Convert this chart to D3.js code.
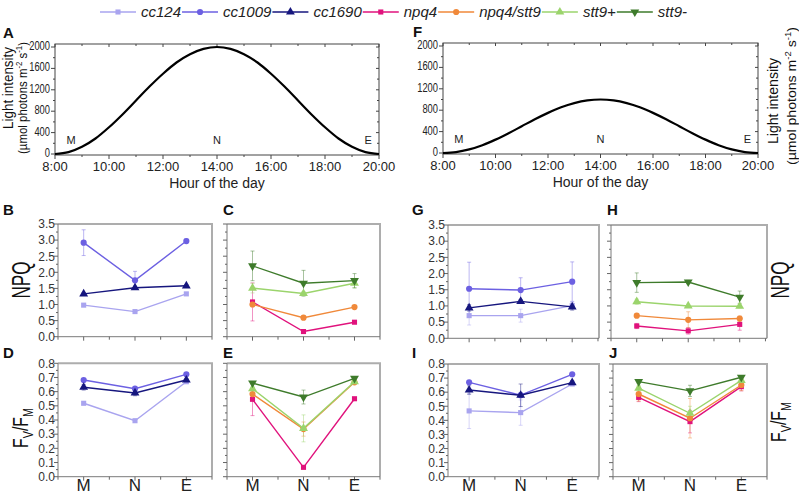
<!DOCTYPE html>
<html><head><meta charset="utf-8">
<script src="https://cdn.jsdelivr.net/npm/d3@7"></script>
<style>body{margin:0;background:#fff}svg{display:block}</style>
</head><body><svg id="c" width="799" height="494"></svg>
<script>
// ---------- DATA ----------
const categories = ["M", "N", "E"];
const hourTicks = [8, 10, 12, 14, 16, 18, 20];
const hourTickLabels = ["8:00", "10:00", "12:00", "14:00", "16:00", "18:00", "20:00"];
const lightTicks = [0, 400, 800, 1200, 1600, 2000];
const hours = [8,8.5,9,9.5,10,10.5,11,11.5,12,12.5,13,13.5,14,14.5,15,15.5,16,16.5,17,17.5,18,18.5,19,19.5,20];
const lightHigh = [0,35,135,290,500,740,1000,1260,1500,1710,1865,1965,2000,1965,1865,1710,1500,1260,1000,740,500,290,135,35,0];
const lightLow  = [0,17,67,146,250,370,500,630,750,855,933,983,1000,983,933,855,750,630,500,370,250,146,67,17,0];

const seriesNames = ["cc124", "cc1009", "cc1690", "npq4", "npq4/stt9", "stt9+", "stt9-"];
const wtSeries = ["cc124", "cc1009", "cc1690"];
const mutSeries = ["npq4", "npq4/stt9", "stt9+", "stt9-"];
const npqTicks = [0, 0.5, 1.0, 1.5, 2.0, 2.5, 3.0, 3.5];
const fvTicks = [0, 0.1, 0.2, 0.3, 0.4, 0.5, 0.6, 0.7, 0.8];

// high light (2000)
const npqB    = [[0.98, 0.78, 1.33], [2.92, 1.75, 2.97], [1.33, 1.52, 1.58]];
const npqBerr = [[0.04, 0.03, 0.04], [0.40, 0.28, 0.07], [0.04, 0.05, 0.04]];
const npqC    = [[1.08, 0.16, 0.45], [1.00, 0.59, 0.92], [1.51, 1.34, 1.66], [2.20, 1.66, 1.74]];
const npqCerr = [[0.59, 0.03, 0.03], [0.03, 0.03, 0.03], [0.15, 0.05, 0.15], [0.46, 0.40, 0.22]];
const fvD     = [[0.518, 0.395, 0.670], [0.682, 0.621, 0.722], [0.631, 0.591, 0.682]];
const fvDerr  = [[0.010, 0.008, 0.010], [0.008, 0.010, 0.008], [0.020, 0.020, 0.010]];
const fvE     = [[0.546, 0.066, 0.550], [0.583, 0.336, 0.666], [0.621, 0.341, 0.670], [0.661, 0.562, 0.694]];
const fvEerr  = [[0.115, 0.006, 0.006], [0.010, 0.050, 0.010], [0.010, 0.095, 0.010], [0.008, 0.049, 0.008]];
// low light (1000)
const npqG    = [[0.70, 0.70, 1.01], [1.53, 1.49, 1.75], [0.94, 1.14, 0.97]];
const npqGerr = [[0.29, 0.20, 0.10], [0.82, 0.38, 0.61], [0.10, 0.05, 0.10]];
const npqH    = [[0.38, 0.23, 0.43], [0.70, 0.57, 0.61], [1.13, 1.00, 0.99], [1.72, 1.74, 1.27]];
const npqHerr = [[0.08, 0.10, 0.18], [0.05, 0.25, 0.08], [0.08, 0.05, 0.05], [0.30, 0.05, 0.19]];
const fvI     = [[0.467, 0.455, 0.658], [0.670, 0.579, 0.727], [0.615, 0.578, 0.668]];
const fvIerr  = [[0.125, 0.090, 0.010], [0.010, 0.010, 0.010], [0.030, 0.080, 0.015]];
const fvJ     = [[0.563, 0.391, 0.639], [0.587, 0.415, 0.651], [0.628, 0.450, 0.684], [0.675, 0.609, 0.706]];
const fvJerr  = [[0.030, 0.080, 0.030], [0.050, 0.140, 0.040], [0.020, 0.050, 0.020], [0.010, 0.040, 0.010]];

// ---------- STYLE ----------
const colors = {"cc124":"#a9a4ef","cc1009":"#6c60e2","cc1690":"#16167e","npq4":"#e0127c","npq4/stt9":"#f0893a","stt9+":"#9bd46c","stt9-":"#3e7b2b"};
const shapes = {"cc124":d3.symbolSquare,"cc1009":d3.symbolCircle,"cc1690":d3.symbolTriangle,"npq4":d3.symbolSquare,"npq4/stt9":d3.symbolCircle,"stt9+":d3.symbolTriangle,"stt9-":"down"};
const FONT = "Arial, 'Liberation Sans', Helvetica, sans-serif";

const svg = d3.select("#c").attr("font-family", FONT);

function marker(g, name, x, y) {
  let sz = 30, t = "";
  let sym = shapes[name];
  if (sym === "down") { sym = d3.symbolTriangle; t = " rotate(180)"; sz = 34; }
  else if (sym === d3.symbolTriangle) sz = 34;
  else if (sym === d3.symbolSquare) sz = 26;
  g.append("path").attr("d", d3.symbol(sym, sz)()).attr("transform", `translate(${x},${y})${t}`)
    .attr("fill", colors[name]);
}

// rotated (-90) text, visually centred on (x, y), compressed along its length to targetLen
function rotText(x, y, parts, size, targetLen) {
  const t = svg.append("text").attr("font-size", size).attr("text-anchor", "middle").attr("fill", "#111")
    .attr("y", size * 0.36);
  parts.forEach(p => {
    const ts = t.append("tspan").text(p.t);
    if (p.sub) ts.attr("font-size", size * 0.68).attr("dy", size * 0.25);
    else if (p.sup) ts.attr("font-size", size * 0.68).attr("dy", -size * 0.38);
    if (p.back) ts.attr("dy", p.back * size);
  });
  const len = t.node().getComputedTextLength();
  const k = targetLen ? targetLen / len : 1;
  t.attr("transform", `translate(${x},${y}) rotate(-90) scale(${k},1)`);
  return t;
}

// ---------- LEGEND ----------
(function () {
  const g = svg.append("g");
  let x = 100;
  seriesNames.forEach(n => {
    g.append("line").attr("x1", x).attr("x2", x + 36).attr("y1", 12).attr("y2", 12)
      .attr("stroke", colors[n]).attr("stroke-width", 1.5);
    marker(g, n, x + 18, 12);
    const t = g.append("text").attr("x", x + 41).attr("y", 17).attr("font-size", 15)
      .attr("font-style", "italic").attr("fill", "#222").text(n);
    x = x + 41 + t.node().getComputedTextLength() + 1;
  });
})();

// ---------- LIGHT PANELS ----------
function lightPanel(o) {
  const x = d3.scaleLinear().domain([8, 20]).range([o.x0, o.x1]);
  const y = d3.scaleLinear().domain([0, 2000]).range([o.yb, o.yt]);
  const g = svg.append("g");
  const top = o.yt - 3, bot = o.yb + 1;
  g.append("rect").attr("x", o.x0).attr("y", top).attr("width", o.x1 - o.x0).attr("height", bot - top)
    .attr("fill", "none").attr("stroke", "#444").attr("stroke-width", 1);
  d3.range(8, 20.01, 1).forEach(h => {
    const major = h % 2 === 0;
    g.append("line").attr("x1", x(h)).attr("x2", x(h)).attr("y1", bot).attr("y2", bot + (major ? 4 : 2)).attr("stroke", "#444");
    g.append("line").attr("x1", x(h)).attr("x2", x(h)).attr("y1", top).attr("y2", top + (major ? 3 : 2)).attr("stroke", "#444");
  });
  d3.range(0, 2001, 200).forEach(v => {
    const major = v % 400 === 0;
    g.append("line").attr("x1", o.x0).attr("x2", o.x0 - (major ? 4 : 2)).attr("y1", y(v)).attr("y2", y(v)).attr("stroke", "#444");
    g.append("line").attr("x1", o.x1).attr("x2", o.x1 - (major ? 3 : 2)).attr("y1", y(v)).attr("y2", y(v)).attr("stroke", "#444");
  });
  hourTicks.forEach((h, i) => g.append("text").attr("x", x(h)).attr("y", bot + 16).attr("text-anchor", "middle")
    .attr("font-size", 13).attr("fill", "#222").text(hourTickLabels[i]));
  lightTicks.forEach(v => {
    const s = String(v);
    g.append("text").attr("x", o.x0 - 5).attr("y", y(v) + 3).attr("text-anchor", "end")
      .attr("font-size", 12).attr("fill", "#222").attr("textLength", s.length * 5.2)
      .attr("lengthAdjust", "spacingAndGlyphs").text(s);
  });
  g.append("text").attr("x", (o.x0 + o.x1) / 2).attr("y", bot + 33).attr("text-anchor", "middle")
    .attr("font-size", 14).attr("fill", "#222").text("Hour of the day");
  const line = d3.line().x((d, i) => x(hours[i])).y(d => y(d)).curve(d3.curveCatmullRom.alpha(0.5));
  g.append("path").attr("d", line(o.vals)).attr("fill", "none").attr("stroke", "#000").attr("stroke-width", 2.2);
  [["M", 8.6], ["N", 14], ["E", 19.6]].forEach(([t, h]) => g.append("text").attr("x", x(h)).attr("y", y(200) + 1)
    .attr("text-anchor", "middle").attr("font-size", 11).attr("fill", "#222").text(t));
}
lightPanel({x0: 55, x1: 379, yt: 47, yb: 154, vals: lightHigh});
lightPanel({x0: 443, x1: 758, yt: 46, yb: 153, vals: lightLow});

const umolParts = [{t: "(µmol photons m"}, {t: "-2", sup: true}, {t: " s", back: 0.38}, {t: "-1", sup: true}, {t: ")", back: 0.38}];
rotText(8, 88, [{t: "Light intensity"}], 14, 82);
rotText(22, 98, umolParts, 13, 112);
rotText(773, 101, [{t: "Light intensity"}], 14, 86);
rotText(791, 96, umolParts, 13.5, 138);

// ---------- SMALL PANELS ----------
function smallPanel(o) {
  const x = d3.scaleLinear().domain(o.xd).range([o.x0, o.x1]);
  const y = d3.scaleLinear().domain([0, o.ymax]).range([o.yb, o.yt]);
  const g = svg.append("g");
  g.append("path").attr("d", `M${o.x0},${o.yt}H${o.x1}V${o.yb}`).attr("fill", "none").attr("stroke", "#adadad").attr("stroke-width", 2);
  g.append("path").attr("d", `M${o.x0},${o.yt}V${o.yb}H${o.x1}`).attr("fill", "none").attr("stroke", "#7a7a7a").attr("stroke-width", 1);
  d3.range(0.5, 3.51, 0.5).forEach(v => {
    if (v < o.xd[0] - 0.01 || v > o.xd[1] + 0.01) return;
    const major = Number.isInteger(v);
    g.append("line").attr("x1", x(v)).attr("x2", x(v)).attr("y1", o.yb).attr("y2", o.yb + (major ? 4 : 3)).attr("stroke", "#666");
  });
  const minorStep = o.ymax > 1 ? 0.25 : 0.05;
  d3.range(0, o.ymax + 1e-6, minorStep).forEach(v => {
    const major = Math.abs(Math.round(v / o.step) * o.step - v) < 1e-6;
    g.append("line").attr("x1", o.x0).attr("x2", o.x0 - (major ? 4 : 2)).attr("y1", y(v)).attr("y2", y(v)).attr("stroke", "#666");
  });
  if (o.ylab) o.ticks.forEach(v => g.append("text").attr("x", o.x0 - 3).attr("y", y(v) + 4.3).attr("text-anchor", "end")
    .attr("font-size", 12).attr("fill", "#333").text(v.toFixed(1)));
  if (o.xlab) categories.forEach((c, i) => g.append("text").attr("x", x(i + 1)).attr("y", 491).attr("text-anchor", "middle")
    .attr("font-size", 17).attr("fill", "#222").text(c));
  o.names.forEach((n, si) => {
    const vals = o.means[si], errs = o.errs[si];
    vals.forEach((v, i) => {
      const cx = x(i + 1);
      g.append("line").attr("x1", cx).attr("x2", cx).attr("y1", y(v - errs[i])).attr("y2", y(v + errs[i]))
        .attr("stroke", colors[n]).attr("stroke-opacity", 0.45).attr("stroke-width", 1);
      [v - errs[i], v + errs[i]].forEach(e => g.append("line").attr("x1", cx - 2).attr("x2", cx + 2).attr("y1", y(e)).attr("y2", y(e))
        .attr("stroke", colors[n]).attr("stroke-opacity", 0.45).attr("stroke-width", 1));
    });
  });
  o.names.forEach((n, si) => {
    const vals = o.means[si];
    const line = d3.line().x((d, i) => x(i + 1)).y(d => y(d));
    g.append("path").attr("d", line(vals)).attr("fill", "none").attr("stroke", colors[n]).attr("stroke-width", 1.4);
    vals.forEach((v, i) => marker(g, n, x(i + 1), y(v)));
  });
}

const npqCfg = {ymax: 3.5, step: 0.5, ticks: npqTicks};
const fvCfg = {ymax: 0.8, step: 0.1, ticks: fvTicks};
smallPanel({...npqCfg, x0: 58, x1: 212, xd: [0.5, 3.5], yt: 224, yb: 336.7, ylab: true, names: wtSeries, means: npqB, errs: npqBerr});
smallPanel({...npqCfg, x0: 227, x1: 380, xd: [0.5, 3.5], yt: 224, yb: 336.7, names: mutSeries, means: npqC, errs: npqCerr});
smallPanel({...fvCfg, x0: 58, x1: 212, xd: [0.5, 3.5], yt: 363.3, yb: 476.7, ylab: true, xlab: true, names: wtSeries, means: fvD, errs: fvDerr});
smallPanel({...fvCfg, x0: 227, x1: 380, xd: [0.5, 3.5], yt: 363.3, yb: 476.7, xlab: true, names: mutSeries, means: fvE, errs: fvEerr});
smallPanel({...npqCfg, x0: 448, x1: 599, xd: [0.59, 3.52], yt: 225, yb: 338.3, ylab: true, names: wtSeries, means: npqG, errs: npqGerr});
smallPanel({...npqCfg, x0: 611, x1: 767, xd: [0.5, 3.53], yt: 225, yb: 338.3, names: mutSeries, means: npqH, errs: npqHerr});
smallPanel({...fvCfg, x0: 448, x1: 599, xd: [0.59, 3.52], yt: 364, yb: 476.7, ylab: true, xlab: true, names: wtSeries, means: fvI, errs: fvIerr});
smallPanel({...fvCfg, x0: 613, x1: 767, xd: [0.5, 3.5], yt: 364, yb: 476.7, xlab: true, names: mutSeries, means: fvJ, errs: fvJerr});

rotText(21, 280, [{t: "NPQ"}], 25, 37);
rotText(780, 280, [{t: "NPQ"}], 25, 37);
const fvParts = [{t: "F"}, {t: "V", sub: true}, {t: "/F", back: -0.25}, {t: "M", sub: true}];
rotText(20, 428, fvParts, 22, 40);
rotText(778, 422, fvParts, 22, 40);

[["A", 3, 38], ["F", 413, 37], ["B", 3, 215], ["C", 223, 215], ["D", 3, 358], ["E", 223, 358],
 ["G", 412, 215], ["H", 607, 215], ["I", 412, 358], ["J", 609, 358]].forEach(([t, x, y]) =>
  svg.append("text").attr("x", x).attr("y", y).attr("font-size", 15).attr("font-weight", "bold").attr("fill", "#111").text(t));
</script>
</body></html>
